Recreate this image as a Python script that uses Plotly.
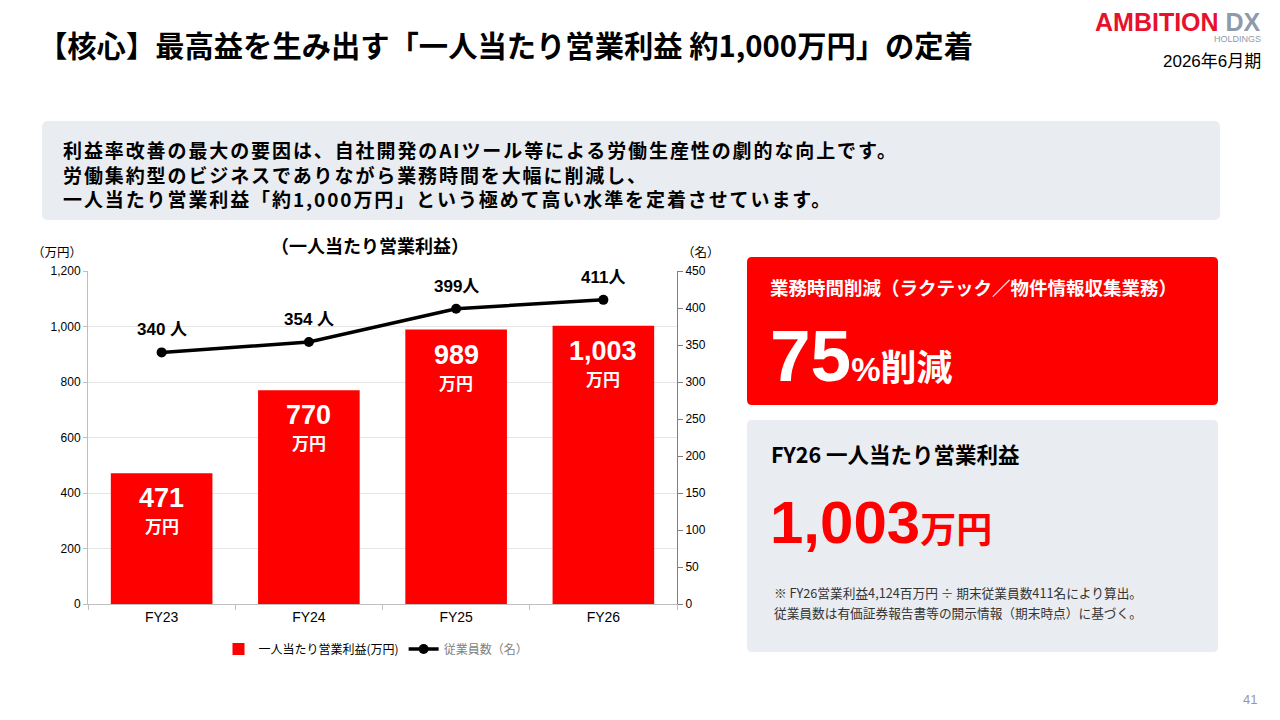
import plotly.graph_objects as go

categories = ["FY23", "FY24", "FY25", "FY26"]
profit_per_person = [471, 770, 989, 1003]
employees = [340, 354, 399, 411]
employee_labels = ["340 人", "354 人", "399人", "411人"]
left_ticks = [0, 200, 400, 600, 800, 1000, 1200]
right_ticks = [0, 50, 100, 150, 200, 250, 300, 350, 400, 450]

W, H = 1280, 720
OFF = 8  # page body margin offset
RED = "#ff0000"
GRAYBOX = "#e9ecf1"
JP = "Noto Sans CJK JP"
AR = "Liberation Sans, Noto Sans CJK JP"


def px(x):
    return (x - OFF) / W


def py(y):
    return 1 - (y - OFF) / H


def rrect(x0, y0, x1, y1, r, color):
    X0, X1 = px(x0), px(x1)
    Y0, Y1 = py(y0), py(y1)
    rx, ry = r / W, r / H
    path = (f"M {X0+rx},{Y0} L {X1-rx},{Y0} Q {X1},{Y0} {X1},{Y0-ry} "
            f"L {X1},{Y1+ry} Q {X1},{Y1} {X1-rx},{Y1} L {X0+rx},{Y1} "
            f"Q {X0},{Y1} {X0},{Y1+ry} L {X0},{Y0-ry} Q {X0},{Y0} {X0+rx},{Y0} Z")
    return dict(type="path", xref="paper", yref="paper", path=path,
                fillcolor=color, line=dict(width=0), layer="below")


fig = go.Figure()
fig.add_trace(go.Bar(
    x=categories, y=profit_per_person, name="一人当たり営業利益(万円)",
    marker=dict(color=RED, line=dict(width=0)), yaxis="y", hoverinfo="skip"))
fig.add_trace(go.Scatter(
    x=categories, y=employees, name="<span style='color:#7f7f7f'>従業員数（名）</span>",
    yaxis="y2", mode="lines+markers", line=dict(color="black", width=3.5),
    marker=dict(color="black", size=10), hoverinfo="skip"))

annotations = []
# bar labels
for c, v in zip(categories, profit_per_person):
    annotations.append(dict(
        x=c, y=v, xref="x", yref="y", yanchor="top", yshift=-8, showarrow=False,
        text=f"<b>{v:,}</b>",
        font=dict(family=AR, size=27, color="white")))
    annotations.append(dict(
        x=c, y=v, xref="x", yref="y", yanchor="top", yshift=-38, showarrow=False,
        text="<b>万円</b>",
        font=dict(family=JP, size=17, color="white")))
# line labels
for c, v, lab in zip(categories, employees, employee_labels):
    annotations.append(dict(
        x=c, y=v, xref="x", yref="y2", yanchor="bottom", yshift=11, showarrow=False,
        text=f"<b>{lab}</b>",
        font=dict(family=AR, size=17, color="black")))


def txt(x, y, text, size, color="black", family=JP, xanchor="left", yanchor="middle"):
    annotations.append(dict(
        x=px(x), y=py(y), xref="paper", yref="paper", xanchor=xanchor, yanchor=yanchor,
        showarrow=False, text=text, align="left",
        font=dict(family=family, size=size, color=color)))


# header
txt(36, 44, "<b>【核心】最高益を生み出す「一人当たり営業利益 約1,000万円」の定着</b>", 29.3)
txt(1263, 22, "<b>AMBITION <span style='color:#8f9aab'>DX</span></b>", 25,
    color="#e8112d", family="Liberation Sans", xanchor="right")
txt(1263, 39, "HOLDINGS", 9, color="#8f9aab", family="Liberation Sans", xanchor="right")
txt(1263, 62, "2026年6月期", 17, family=AR, xanchor="right")

# summary box text
txt(61, 174,
    "<span style='letter-spacing:1.9px'><b>利益率改善の最大の要因は、自社開発のAIツール等による労働生産性の劇的な向上です。</b><br>"
    "<b>労働集約型のビジネスでありながら業務時間を大幅に削減し、</b><br>"
    "<b>一人当たり営業利益「約1,000万円」という極めて高い水準を定着させています。</b></span>", 19)

# chart labels
txt(370, 245, "<b>（一人当たり営業利益）</b>", 18, xanchor="center")
txt(30, 251, "（万円）", 12.5)
txt(680, 251, "（名）", 12.5)

# right red box
txt(768, 287, "<b>業務時間削減（ラクテック／物件情報収集業務）</b>", 18.5, color="white")
txt(768, 355, "<b><span style='font-family:Liberation Sans;font-size:73px'>75</span>"
    "<span style='font-family:Liberation Sans;font-size:33px'>%</span>"
    "<span style='font-size:36px'>削減</span></b>", 36, color="white")

# gray box 2
txt(769, 453, "<b>FY26 一人当たり営業利益</b>", 21.5)
txt(768, 522, "<b><span style='font-family:Liberation Sans;font-size:60px'>1,003</span>"
    "<span style='font-size:36px'>万円</span></b>", 36, color=RED)
txt(772, 592, "※ FY26営業利益4,124百万円 ÷ 期末従業員数411名により算出。", 12.7, color="#333333")
txt(772, 612, "従業員数は有価証券報告書等の開示情報（期末時点）に基づく。", 12.7, color="#333333")

# page number
txt(1259, 699, "41", 13, color="#999999", family=AR, xanchor="right")

shapes = [
    rrect(42, 121, 1220, 220, 6, GRAYBOX),
    rrect(747, 257, 1218, 405, 5, RED),
    rrect(747, 420, 1218, 652, 5, GRAYBOX),
]

fig.update_layout(
    width=W, height=H, margin=dict(l=0, r=0, t=0, b=0),
    paper_bgcolor="white", plot_bgcolor="white",
    font=dict(family=AR, size=12, color="black"),
    bargap=0.31, showlegend=True,
    legend=dict(orientation="h", x=px(376), y=py(649), xanchor="center", yanchor="middle",
                font=dict(family=JP, size=12, color="black"), itemwidth=30,
                traceorder="normal"),
    xaxis=dict(domain=[px(88), px(677)], showline=True, linecolor="#bfbfbf", linewidth=1,
               ticks="outside", tickson="boundaries", tickcolor="#bfbfbf", ticklen=5,
               tickfont=dict(family=AR, size=14, color="black"), showgrid=False,
               automargin=False),
    yaxis=dict(domain=[py(604), py(271)], range=[0, 1200], tickvals=left_ticks,
               tickformat=",", showline=True, linecolor="#bfbfbf", linewidth=1,
               ticks="outside", ticklen=4, tickcolor="#bfbfbf",
               showgrid=True, gridcolor="#e6e6e6", zeroline=False, automargin=False,
               tickfont=dict(family=AR, size=12, color="black")),
    yaxis2=dict(overlaying="y", side="right", range=[0, 450], tickvals=right_ticks,
                showline=True, linecolor="#7f7f7f", linewidth=1, ticks="outside",
                ticklen=5, tickcolor="#7f7f7f", showgrid=False, zeroline=False,
                tickfont=dict(family=AR, size=12, color="black"), anchor="x",
                automargin=False),
    annotations=annotations, shapes=shapes,
)

fig.write_html("out.html")
